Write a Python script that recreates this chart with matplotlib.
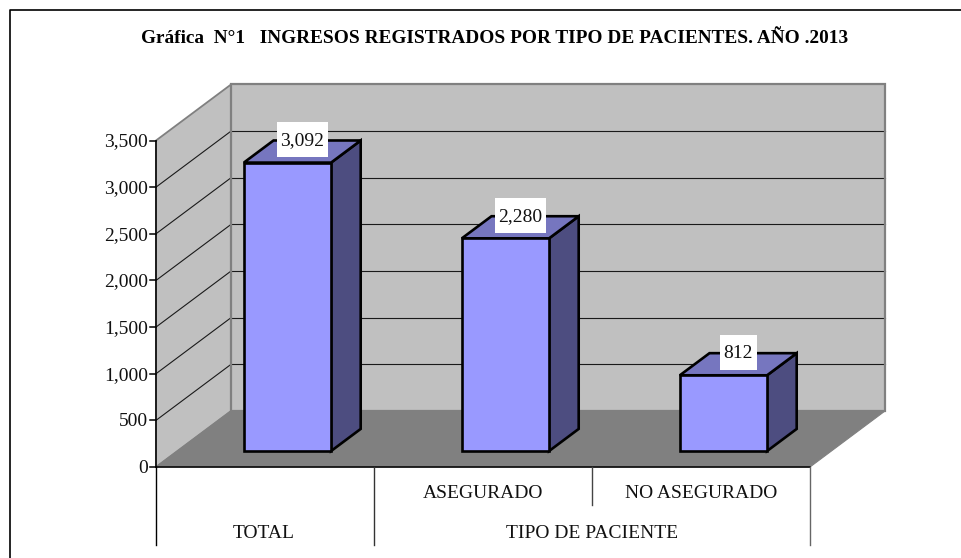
import matplotlib
matplotlib.use("Agg")
import matplotlib.pyplot as plt
from matplotlib.patches import Polygon, Rectangle
from matplotlib.transforms import IdentityTransform

plt.rcParams['font.family'] = ['Liberation Serif', 'DejaVu Serif']

# data
title = "Gráfica  N°1   INGRESOS REGISTRADOS POR TIPO DE PACIENTES. AÑO .2013"
values = [3092, 2280, 812]
value_labels = ["3,092", "2,280", "812"]
group_labels = ["", "ASEGURADO", "NO ASEGURADO"]
outer_labels = ["TOTAL", "TIPO DE PACIENTE"]
y_ticks = [0, 500, 1000, 1500, 2000, 2500, 3000, 3500]
y_ticklabels = ["0", "500", "1,000", "1,500", "2,000", "2,500", "3,000", "3,500"]

W, H = 961, 558
ymax = 3500
depth_x = 75 / 218     # depth of the 3d box, in category units
depth_y = 56 / 326.5 * ymax
bar_w = 0.40
bar_shift = 0.005
t_front = 0.285        # bar position inside the depth
t_back = 0.68
px_y = ymax / 326.5
fs = 14

fig = plt.figure(figsize=(W / 100, H / 100), dpi=100)
fig.patch.set_facecolor("white")

# outer frame, only top and left are visible
fig.add_artist(plt.Line2D([10 / W, 10 / W, 1], [0, 1 - 10 / H, 1 - 10 / H], transform=fig.transFigure,
                          color="black", linewidth=1.2))

ax = fig.add_axes([156 / W, 1 - 467 / H, 654 / W, 326.5 / H])
ax.set_xlim(0, 3)
ax.set_ylim(0, ymax)
ax.axis("off")


def off(x, y, t):
    return (x + t * depth_x, y + t * depth_y)


def poly(points, fc, ec, lw, z):
    ax.add_patch(Polygon(points, closed=True, facecolor=fc, edgecolor=ec, linewidth=lw,
                         zorder=z, clip_on=False, joinstyle="miter"))


# walls and floor
back = [off(0, 0, 1), off(3, 0, 1), off(3, ymax, 1), off(0, ymax, 1)]
side = [off(0, 0, 0), off(0, 0, 1), off(0, ymax, 1), off(0, ymax, 0)]
poly(back, "#c0c0c0", "none", 0, 1)
poly(side, "#c0c0c0", "none", 0, 1)
poly([off(0, 0, 0), off(3, 0, 0), off(3, 0, 1), off(0, 0, 1)], "#808080", "#808080", 0.8, 1.5)

# gridlines
for v in y_ticks[1:-1]:
    ax.plot(*zip(off(0, v, 1), off(3, v, 1)), color="#1a1a1a", lw=0.8, zorder=2, clip_on=False)
    ax.plot(*zip(off(0, v, 0), off(0, v, 1)), color="#1a1a1a", lw=0.8, zorder=2, clip_on=False)
poly(back, "none", "#808080", 1.6, 2.5)
poly(side, "none", "#808080", 1.3, 2.5)

# axis lines and ticks
ax.plot([0, 3], [0, 0], color="black", lw=1.1, zorder=6, clip_on=False)
ax.plot([0, 0], [0, ymax], color="black", lw=1.1, zorder=6, clip_on=False)
for v, lab in zip(y_ticks, y_ticklabels):
    ax.plot([-6 / 218, 0], [v, v], color="black", lw=1.1, zorder=6, clip_on=False)
    ax.text(-8 / 218, v - 1.5 * px_y, lab, ha="right", va="center", fontsize=fs, color="#111111")

# bars
renderer = fig.canvas.get_renderer()
for i, (v, lab) in enumerate(zip(values, value_labels)):
    x0, x1 = i + 0.5 + bar_shift - bar_w / 2, i + 0.5 + bar_shift + bar_w / 2
    # right side
    poly([off(x1, 0, t_front), off(x1, 0, t_back), off(x1, v, t_back), off(x1, v, t_front)],
         "#4d4d80", "black", 1.9, 3)
    # top
    poly([off(x0, v, t_front), off(x1, v, t_front), off(x1, v, t_back), off(x0, v, t_back)],
         "#7676bf", "black", 1.9, 3)
    # front
    poly([off(x0, 0, t_front), off(x1, 0, t_front), off(x1, v, t_front), off(x0, v, t_front)],
         "#9999ff", "black", 1.9, 4)
    # label with white box centred over the back edge of the top face
    lx, ly = off(i + 0.5 + bar_shift, v, t_back)
    lx = lx - (t_back - t_front) * depth_x / 2
    t = ax.text(lx, ly, lab, ha="center", va="center", fontsize=fs, color="#111111", zorder=8)
    bb = t.get_window_extent(renderer)
    cy = ax.transData.transform((lx, ly))[1]
    ax.add_patch(Rectangle((bb.x0 - 3.5, cy - 16.5), bb.width + 7, 35, transform=IdentityTransform(),
                           facecolor="white", edgecolor="none", zorder=7, clip_on=False))

# category table under the axis
for x, bottom, col in [(0, 78, "black"), (1, 78, "#333333"), (2, 38, "#444444"), (3, 78, "#666666")]:
    ax.plot([x, x], [0, -bottom * px_y], color=col, lw=1.0, clip_on=False, zorder=6)
for i, lab in enumerate(group_labels):
    if lab:
        ax.text(i + 0.5, -26.5 * px_y, lab, ha="center", va="center", fontsize=fs, color="#111111")
ax.text(0.495, -66.5 * px_y, outer_labels[0], ha="center", va="center", fontsize=fs, color="#111111")
ax.text(2.0, -66.5 * px_y, outer_labels[1], ha="center", va="center", fontsize=fs, color="#111111")

fig.text(494.5 / W, 1 - 38.5 / H, title, ha="center", va="center", fontsize=13.9, fontweight="bold")

fig.savefig("out.png", dpi=100)
